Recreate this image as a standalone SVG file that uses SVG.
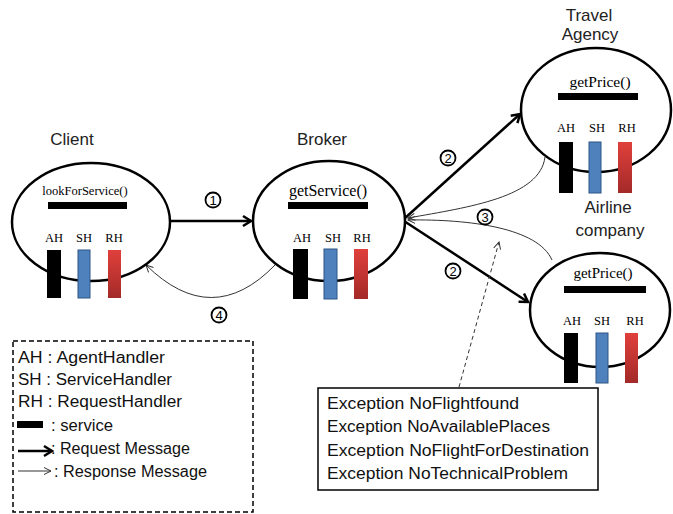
<svg xmlns="http://www.w3.org/2000/svg" width="673" height="514" viewBox="0 0 673 514">
<style>
.node{fill:#fff;stroke:#000;stroke-width:2.5}
.title{font-family:"Liberation Sans",Arial,sans-serif;font-size:17px;fill:#222;text-anchor:middle}
.fn{font-family:"Liberation Serif","Times New Roman",serif;fill:#000;text-anchor:middle}
.hl{font-family:"Liberation Serif","Times New Roman",serif;font-size:12.5px;fill:#000;text-anchor:middle}
.svc{fill:#000}
.ah{fill:#000}
.sh{fill:#4f81bd;stroke:#2f5587;stroke-width:1}
.rh{fill:url(#red)}
.req{fill:none;stroke:#000;stroke-width:2.5}
.resp{fill:none;stroke:#333;stroke-width:1}
.num circle{fill:none;stroke:#000;stroke-width:1.8}
.num text{font-family:"Liberation Sans",Arial,sans-serif;font-size:13px;text-anchor:middle;fill:#000}
.lg{font-family:"Liberation Sans",Arial,sans-serif;font-size:16px;fill:#111}
</style>
<defs>
<linearGradient id="red" x1="0" y1="0" x2="0" y2="1">
<stop offset="0" stop-color="#e0403c"/>
<stop offset="1" stop-color="#a32a28"/>
</linearGradient>
<marker id="aReq" markerUnits="userSpaceOnUse" markerWidth="14" markerHeight="14" refX="10" refY="6" orient="auto" viewBox="0 0 14 12">
<path d="M2,1 L10,6 L2,11" fill="none" stroke="#000" stroke-width="2.5"/>
</marker>
<marker id="aResp" markerUnits="userSpaceOnUse" markerWidth="10" markerHeight="10" refX="8" refY="4" orient="auto" viewBox="0 0 10 8">
<path d="M1,0.5 L8,4 L1,7.5" fill="none" stroke="#333" stroke-width="1"/>
</marker>
</defs>
<rect width="673" height="514" fill="#fff"/>

<g id="connectors">
<path class="req" d="M171,221 L251,221" marker-end="url(#aReq)"/>
<path class="req" d="M404,219 L520,114" marker-end="url(#aReq)"/>
<path class="req" d="M404,221 L528,302" marker-end="url(#aReq)"/>
<path class="resp" d="M545,157 C540,197 470,207 408,218" marker-end="url(#aResp)"/>
<path class="resp" d="M552,260 C538,228 470,219 408,220" marker-end="url(#aResp)"/>
<path class="resp" d="M275,265 Q212,330 146,265" marker-end="url(#aResp)"/>
<path class="resp" d="M459,387 L499,242" stroke-dasharray="4,3" marker-end="url(#aResp)"/>
<g class="num"><circle cx="213" cy="200" r="7.5"/><text x="213" y="204.5">1</text></g>
<g class="num"><circle cx="448" cy="158" r="7.5"/><text x="448" y="162.5">2</text></g>
<g class="num"><circle cx="453" cy="271" r="7.5"/><text x="453" y="275.5">2</text></g>
<g class="num"><circle cx="485" cy="217" r="7.5"/><text x="485" y="221.5">3</text></g>
<g class="num"><circle cx="219" cy="315" r="7.5"/><text x="219" y="319.5">4</text></g>
</g>

<g id="client">
<text class="title" x="72" y="145">Client</text>
<ellipse class="node" cx="91" cy="222" rx="79" ry="59"/>
<text class="fn" x="85" y="195" font-size="12.5">lookForService()</text>
<rect class="svc" x="48" y="202" width="79" height="7"/>
<text class="hl" x="54" y="242">AH</text>
<text class="hl" x="84" y="242">SH</text>
<text class="hl" x="114" y="242">RH</text>
<rect class="ah" x="47" y="250" width="14" height="48"/>
<rect class="sh" x="78" y="250" width="12" height="48"/>
<rect class="rh" x="108" y="250" width="13" height="48"/>
</g>

<g id="broker">
<text class="title" x="322" y="145">Broker</text>
<ellipse class="node" cx="329" cy="221" rx="76" ry="60"/>
<text class="fn" x="328" y="196" font-size="16">getService()</text>
<rect class="svc" x="288" y="202" width="80" height="7"/>
<text class="hl" x="302" y="242">AH</text>
<text class="hl" x="333" y="242">SH</text>
<text class="hl" x="362" y="242">RH</text>
<rect class="ah" x="293" y="249" width="15" height="50"/>
<rect class="sh" x="324" y="249" width="13" height="50"/>
<rect class="rh" x="354" y="249" width="14" height="50"/>
</g>

<g id="travel-agency">
<text class="title" x="589" y="21">Travel</text>
<text class="title" x="590" y="40">Agency</text>
<ellipse class="node" cx="596" cy="110" rx="75" ry="62"/>
<text class="fn" x="600" y="87" font-size="15.5">getPrice()</text>
<rect class="svc" x="558" y="93" width="80" height="7"/>
<text class="hl" x="566" y="132">AH</text>
<text class="hl" x="597" y="132">SH</text>
<text class="hl" x="627" y="132">RH</text>
<rect class="ah" x="559" y="142" width="14" height="51"/>
<rect class="sh" x="589" y="142" width="12" height="51"/>
<rect class="rh" x="618" y="142" width="14" height="51"/>
</g>

<g id="airline-company">
<text class="title" x="608" y="213">Airline</text>
<text class="title" x="610" y="236">company</text>
<ellipse class="node" cx="600" cy="310" rx="70" ry="57"/>
<text class="fn" x="603" y="278" font-size="15">getPrice()</text>
<rect class="svc" x="564" y="286" width="82" height="7"/>
<text class="hl" x="572" y="325">AH</text>
<text class="hl" x="602" y="325">SH</text>
<text class="hl" x="635" y="325">RH</text>
<rect class="ah" x="564" y="333" width="14" height="50"/>
<rect class="sh" x="596" y="333" width="12" height="50"/>
<rect class="rh" x="625" y="333" width="13" height="50"/>
</g>

<g id="legend">
<rect x="13" y="341" width="240" height="171" fill="none" stroke="#000" stroke-width="1.5" stroke-dasharray="5,3"/>
<text class="lg" x="18" y="363" textLength="147" lengthAdjust="spacingAndGlyphs">AH : AgentHandler</text>
<text class="lg" x="18" y="385" textLength="154" lengthAdjust="spacingAndGlyphs">SH : ServiceHandler</text>
<text class="lg" x="18" y="407" textLength="164" lengthAdjust="spacingAndGlyphs">RH : RequestHandler</text>
<rect x="17" y="421" width="26" height="7" fill="#000"/>
<text class="lg" x="51" y="431" textLength="62" lengthAdjust="spacingAndGlyphs">: service</text>
<text class="lg" x="51" y="454" textLength="139" lengthAdjust="spacingAndGlyphs">: Request Message</text>
<path class="req" d="M18,451 L52,451" marker-end="url(#aReq)"/>
<path class="resp" d="M18,471 L51,471" marker-end="url(#aResp)"/>
<text class="lg" x="54" y="477" textLength="153" lengthAdjust="spacingAndGlyphs">: Response Message</text>
</g>

<g id="exceptions">
<rect x="318" y="388" width="280" height="102" fill="#fff" stroke="#000" stroke-width="1.5"/>
<text class="lg" x="327" y="409" textLength="192" lengthAdjust="spacingAndGlyphs">Exception NoFlightfound</text>
<text class="lg" x="327" y="432" textLength="223" lengthAdjust="spacingAndGlyphs">Exception NoAvailablePlaces</text>
<text class="lg" x="327" y="456" textLength="262" lengthAdjust="spacingAndGlyphs">Exception NoFlightForDestination</text>
<text class="lg" x="327" y="479" textLength="241" lengthAdjust="spacingAndGlyphs">Exception NoTechnicalProblem</text>
</g>
</svg>
